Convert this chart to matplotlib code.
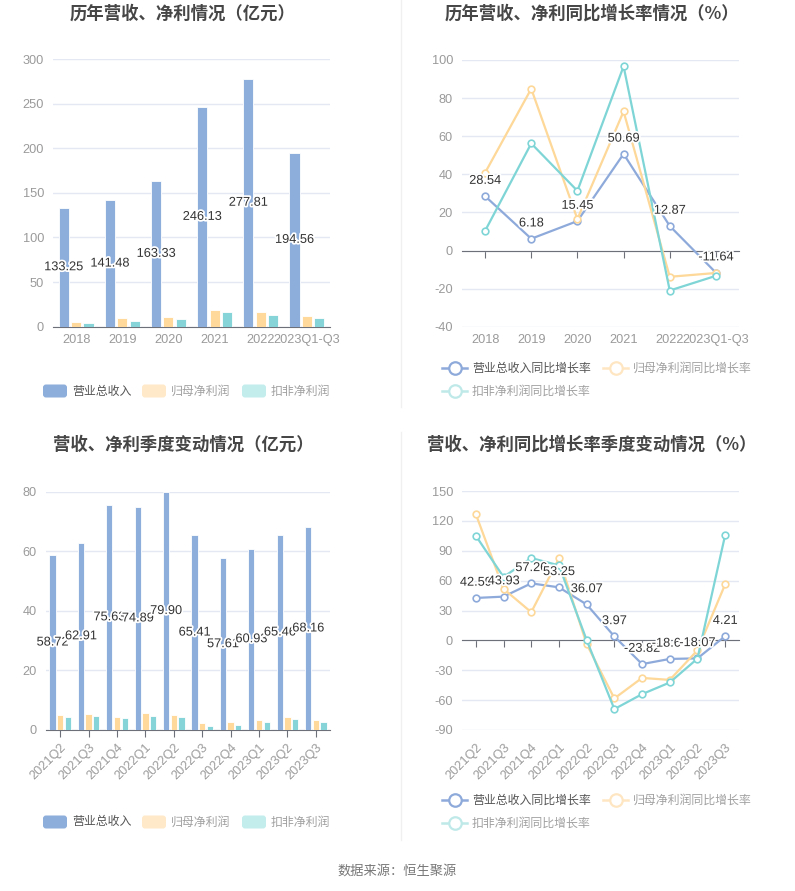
import matplotlib
matplotlib.use('Agg')
import matplotlib.pyplot as plt
import matplotlib.patheffects as pe
from matplotlib.patches import FancyBboxPatch
import numpy as np

plt.rcParams['font.family'] = ['Noto Sans CJK SC', 'DejaVu Sans']
plt.rcParams['axes.unicode_minus'] = False

# ---------------- data ----------------
years = ['2018', '2019', '2020', '2021', '2022', '2023Q1-Q3']
rev_y = [133.25, 141.48, 163.33, 246.13, 277.81, 194.56]
np_y = [5.3, 9.7, 11.2, 18.7, 16.1, 12.0]
kf_y = [4.1, 6.4, 8.2, 16.1, 12.7, 9.7]

rev_g_y = [28.54, 6.18, 15.45, 50.69, 12.87, -11.64]
np_g_y = [40.8, 84.9, 16.5, 73.0, -13.8, -11.8]
kf_g_y = [10.3, 56.2, 31.3, 96.7, -21.0, -13.3]

quarters = ['2021Q2', '2021Q3', '2021Q4', '2022Q1', '2022Q2',
            '2022Q3', '2022Q4', '2023Q1', '2023Q2', '2023Q3']
rev_q = [58.72, 62.91, 75.63, 74.89, 79.90, 65.41, 57.61, 60.93, 65.46, 68.16]
np_q = [5.0, 5.5, 4.4, 5.8, 4.9, 2.2, 2.7, 3.5, 4.4, 3.5]
kf_q = [4.4, 4.6, 3.9, 4.7, 4.4, 1.3, 1.7, 2.7, 3.6, 2.8]

rev_g_q = [42.59, 43.93, 57.26, 53.25, 36.07, 3.97, -23.82, -18.64, -18.07, 4.21]
np_g_q = [126.7, 51.7, 28.3, 82.3, -3.7, -58.3, -37.7, -39.7, -10.0, 56.3]
kf_g_q = [105.0, 63.7, 82.7, 75.3, 0.3, -69.0, -54.0, -42.3, -18.3, 105.7]

bar_names = ['营业总收入', '归母净利润', '扣非净利润']
line_names = ['营业总收入同比增长率', '归母净利润同比增长率', '扣非净利润同比增长率']

titles = ['历年营收、净利情况（亿元）', '历年营收、净利同比增长率情况（%）',
          '营收、净利季度变动情况（亿元）', '营收、净利同比增长率季度变动情况（%）']
source = '数据来源：恒生聚源'

# ---------------- style ----------------
BLUE = '#8dadda'
ORANGE = '#ffd89c'
TEAL = '#86d4d7'
LBLUE = '#8eaadb'
LORANGE = '#fdd898'
LTEAL = '#7fd5d6'
GRID = '#e3e8f2'
AXIS = '#6e7079'
TICK = '#9a9a9a'
LABEL = '#333333'
NUMFONT = ['Liberation Sans', 'DejaVu Sans']
NUMSIZE = 9.2

W, H = 795, 891
fig = plt.figure(figsize=(W / 100, H / 100), dpi=100)

ov = fig.add_axes([0, 0, 1, 1])
ov.set_xlim(0, W)
ov.set_ylim(H, 0)
ov.axis('off')
ov.patch.set_alpha(0)


def add_ax(x0, y0, x1, y1):
    return fig.add_axes([x0 / W, 1 - y1 / H, (x1 - x0) / W, (y1 - y0) / H])


stroke = [pe.withStroke(linewidth=2.5, foreground='white')]


def style_common(ax, ylo, yhi, step):
    ax.set_ylim(ylo, yhi)
    ax.set_yticks(np.arange(ylo, yhi + 0.01, step))
    ax.yaxis.grid(True, color=GRID, linewidth=1)
    ax.set_axisbelow(True)
    for s in ['top', 'right', 'left']:
        ax.spines[s].set_visible(False)
    ax.spines['bottom'].set_color(AXIS)
    ax.tick_params(axis='y', length=0, pad=6.5, labelcolor=TICK, labelsize=NUMSIZE)
    for t in ax.get_yticklabels():
        t.set_fontfamily(NUMFONT)


def set_xlabels(axis_obj, cats, rotate, pad):
    axis_obj.set_xticks(np.arange(len(cats)))
    if rotate:
        axis_obj.set_xticklabels(cats, rotation=45, ha='right', rotation_mode='anchor')
    else:
        axis_obj.set_xticklabels(cats)
    for t in axis_obj.get_xticklabels():
        t.set_fontfamily(NUMFONT)
        t.set_color(TICK)
        t.set_fontsize(NUMSIZE)


def bar_chart(ax, cats, rev, npv, kf, ymax, step, rotate):
    n = len(cats)
    x = np.arange(n)
    w, off = 0.22, 0.27
    ax.bar(x - off, rev, w, color=BLUE, edgecolor='white', linewidth=0.6, zorder=3)
    ax.bar(x, npv, w, color=ORANGE, edgecolor='white', linewidth=0.6, zorder=3)
    ax.bar(x + off, kf, w, color=TEAL, edgecolor='white', linewidth=0.6, zorder=3)
    ax.set_xlim(-0.5, n - 0.5)
    style_common(ax, 0, ymax, step)
    set_xlabels(ax, cats, rotate, 0)
    if rotate:
        ax.tick_params(axis='x', length=5, color=AXIS, pad=3)
    else:
        ax.tick_params(axis='x', length=0, pad=5)
    for xi, v in zip(x, rev):
        ax.text(xi - off, v / 2, f'{v:.2f}', ha='center', va='center', color=LABEL,
                fontsize=NUMSIZE, family=NUMFONT, path_effects=stroke, zorder=6)


def line_chart(ax, cats, rev, npv, kf, ylo, yhi, step, rotate):
    n = len(cats)
    x = np.arange(n)
    for vals, c in [(rev, LBLUE), (npv, LORANGE), (kf, LTEAL)]:
        ax.plot(x, vals, color=c, lw=1.6, marker='o', ms=4.8, mfc='white', mec=c,
                mew=1.2, zorder=3)
    ax.set_xlim(-0.5, n - 0.5)
    style_common(ax, ylo, yhi, step)
    ax.spines['bottom'].set_position(('data', 0))
    ax.set_xticks(x)
    ax.tick_params(axis='x', length=5, color=AXIS, labelbottom=False)
    sec = ax.secondary_xaxis('bottom')
    sec.spines['bottom'].set_visible(False)
    set_xlabels(sec, cats, rotate, 0)
    sec.tick_params(axis='x', length=0, pad=8 if rotate else 5)
    for xi, v in zip(x, rev):
        ax.annotate(f'{v:.2f}', (xi, v), xytext=(0, 11), textcoords='offset points',
                    ha='center', va='center', color=LABEL, fontsize=NUMSIZE,
                    family=NUMFONT, path_effects=stroke, zorder=6)


ax1 = add_ax(53, 59, 330, 326.7)
bar_chart(ax1, years, rev_y, np_y, kf_y, 300, 50, False)

ax2 = add_ax(462, 60, 739, 326.7)
line_chart(ax2, years, rev_g_y, np_g_y, kf_g_y, -40, 100, 20, False)

ax3 = add_ax(46, 491.7, 330, 730)
bar_chart(ax3, quarters, rev_q, np_q, kf_q, 80, 20, True)

ax4 = add_ax(462, 491, 739, 730)
line_chart(ax4, quarters, rev_g_q, np_g_q, kf_g_q, -90, 150, 30, True)

# ---------------- titles ----------------
for (tx, ty), s in zip([(183, 14), (592, 14), (183, 445), (592, 445)], titles):
    fig.text(tx / W, 1 - ty / H, s, ha='center', va='center', fontsize=12.5,
             fontweight='bold', color='#464646')

# ---------------- legends ----------------
bar_leg_cols = [(BLUE, '#555555'), ('#ffe9c9', '#a0a0a0'), ('#c3ecec', '#a0a0a0')]
for ly in [391, 822]:
    for (x0, (pc, tc), name) in zip([43, 142, 242], bar_leg_cols, bar_names):
        ov.add_patch(FancyBboxPatch((x0, ly - 6.5), 24, 13,
                                    boxstyle='round,pad=0,rounding_size=3',
                                    facecolor=pc, edgecolor='none'))
        ov.text(x0 + 29, ly, name, ha='left', va='center', fontsize=8.6, color=tc)

line_leg_cols = [(LBLUE, '#555555'), ('#ffe6c2', '#a0a0a0'), ('#bfe9e9', '#a0a0a0')]
for r1, r2 in [(368, 391), (800, 823)]:
    for (x0, ly), (lc, tc), name in zip([(442, r1), (603, r1), (442, r2)],
                                        line_leg_cols, line_names):
        ov.plot([x0, x0 + 25], [ly, ly], color=lc, lw=1.8)
        ov.plot([x0 + 12.5], [ly], marker='o', ms=9, mfc='white', mec=lc, mew=1.6)
        ov.text(x0 + 30, ly, name, ha='left', va='center', fontsize=8.6, color=tc)

# dividers
ov.plot([400.5, 400.5], [0, 407], color='#f0f0f0', lw=1)
ov.plot([400.5, 400.5], [432, 840], color='#f0f0f0', lw=1)

fig.text(397 / W, 1 - 871 / H, source, ha='center', va='center', fontsize=9.5,
         color='#777777')

fig.savefig('out.png', dpi=100, facecolor='white')
